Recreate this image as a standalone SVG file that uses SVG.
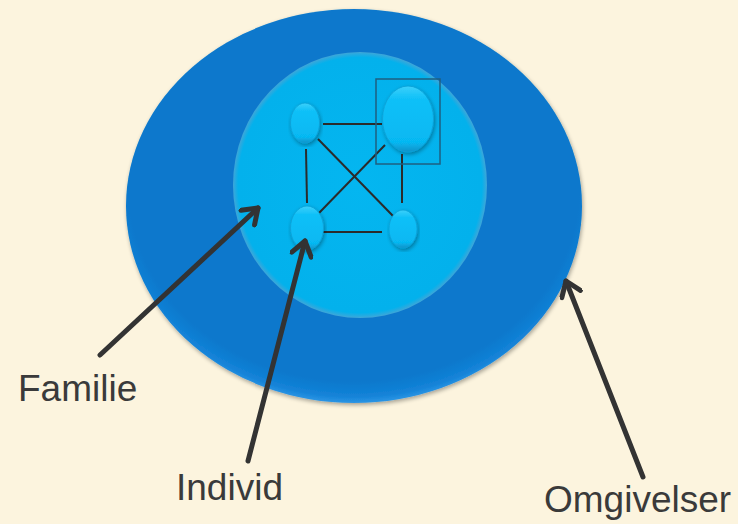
<svg xmlns="http://www.w3.org/2000/svg" width="738" height="524" viewBox="0 0 738 524">
  <defs>
    <radialGradient id="outerFill" cx="50%" cy="45%" r="55%">
      <stop offset="0.9" stop-color="#0878CC"/>
      <stop offset="0.97" stop-color="#1483D8"/>
      <stop offset="1" stop-color="#2C95E4"/>
    </radialGradient>
    <radialGradient id="innerFill" cx="50%" cy="50%" r="50%">
      <stop offset="0" stop-color="#04B6F0"/>
      <stop offset="0.96" stop-color="#03B1EC"/>
      <stop offset="1" stop-color="#3FA6D8"/>
    </radialGradient>
    <linearGradient id="nodeFill" x1="0" y1="0" x2="0" y2="1">
      <stop offset="0" stop-color="#3CD0FA"/>
      <stop offset="0.2" stop-color="#0FC0F8"/>
      <stop offset="0.85" stop-color="#06B8F2"/>
      <stop offset="1" stop-color="#0A92C8"/>
    </linearGradient>
    <filter id="softShadow" x="-10%" y="-10%" width="120%" height="120%">
      <feGaussianBlur in="SourceAlpha" stdDeviation="2"/>
      <feOffset dx="1" dy="2"/>
      <feComponentTransfer><feFuncA type="linear" slope="0.35"/></feComponentTransfer>
      <feMerge><feMergeNode/><feMergeNode in="SourceGraphic"/></feMerge>
    </filter>
    <marker id="openArrow" viewBox="0 0 24 24" refX="20" refY="12" markerWidth="24" markerHeight="24" markerUnits="userSpaceOnUse" orient="auto">
      <path d="M6,2 L20,12 L6,22" fill="none" stroke="#333333" stroke-width="5" stroke-linecap="round" stroke-linejoin="round"/>
    </marker>
    <style>
      .node { fill: url(#nodeFill); stroke: #0A9FD6; stroke-width: 0.8; }
      .link { stroke: #2B2B2B; stroke-width: 2; fill: none; }
      .pointer { stroke: #333333; stroke-width: 5; fill: none; stroke-linecap: round; marker-end: url(#openArrow); }
      .label { font-family: "Liberation Sans", Arial, sans-serif; font-size: 37px; fill: #3A3A3A; }
    </style>
  </defs>

  <rect width="738" height="524" fill="#FCF4DE"/>

  <!-- environment ring -->
  <g id="omgivelser" filter="url(#softShadow)">
    <ellipse cx="354" cy="206" rx="228" ry="197" fill="url(#outerFill)"/>
  </g>

  <!-- family circle -->
  <g id="familie">
    <ellipse cx="360" cy="185" rx="127" ry="133" fill="url(#innerFill)"/>
  </g>

  <!-- links between family members -->
  <g id="links">
    <line class="link" x1="323" y1="124" x2="382" y2="124"/>
    <line class="link" x1="306" y1="149" x2="307" y2="203"/>
    <line class="link" x1="318" y1="139" x2="394" y2="217"/>
    <line class="link" x1="319" y1="213" x2="385" y2="145"/>
    <line class="link" x1="402" y1="154" x2="402" y2="203"/>
    <line class="link" x1="323" y1="232" x2="382" y2="232"/>
  </g>

  <!-- family members -->
  <g id="member-top-left" filter="url(#softShadow)">
    <ellipse class="node" cx="305" cy="123" rx="14.5" ry="20"/>
  </g>
  <g id="member-top-right">
    <rect x="376" y="79" width="64" height="85" fill="none" stroke="#1F5F80" stroke-width="1.5"/>
    <ellipse class="node" cx="408" cy="119" rx="25.5" ry="33" filter="url(#softShadow)"/>
  </g>
  <g id="individ" filter="url(#softShadow)">
    <ellipse class="node" cx="307" cy="228" rx="16.5" ry="22"/>
  </g>
  <g id="member-bottom-right" filter="url(#softShadow)">
    <ellipse class="node" cx="403" cy="229" rx="14" ry="19"/>
  </g>

  <!-- pointers from labels -->
  <g id="pointers">
    <line class="pointer" x1="100" y1="355" x2="258" y2="208"/>
    <line class="pointer" x1="248" y1="461" x2="305" y2="241"/>
    <line class="pointer" x1="643" y1="477" x2="566" y2="281"/>
  </g>

  <!-- labels -->
  <g id="labels">
    <text class="label" x="18" y="401">Familie</text>
    <text class="label" x="176" y="500">Individ</text>
    <text class="label" x="544" y="512">Omgivelser</text>
  </g>
</svg>
